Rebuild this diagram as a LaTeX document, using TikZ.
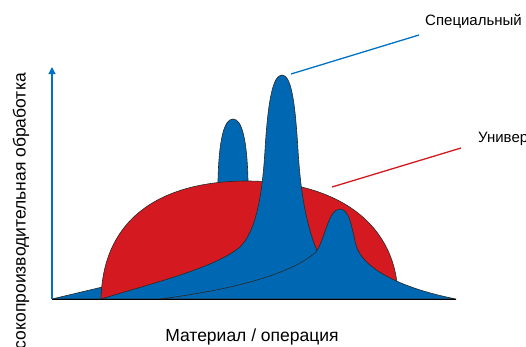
\documentclass[tikz,border=0pt]{standalone}
\usepackage{fontspec}
\setmainfont{Liberation Sans}
\usetikzlibrary{arrows.meta}
\definecolor{cblue}{RGB}{0,104,178}
\definecolor{cred}{RGB}{212,25,32}
\definecolor{cline}{RGB}{0,114,198}
\definecolor{cedge}{RGB}{40,40,40}
\begin{document}
\begin{tikzpicture}[x=1pt,y=-1pt,
  shp/.style={draw=cedge, line width=0.6pt, line join=round},
  lbl/.style={inner sep=0pt, font=\fontsize{15}{18}\selectfont},
  axlbl/.style={inner sep=0pt, font=\fontsize{17.5}{20}\selectfont},
  leader/.style={line width=1.3pt}]
\useasboundingbox (0,0) rectangle (526,346);
\clip (0,0) rectangle (526,346);
% back blue (behind red)
\fill[cblue, shp] (52,299) -- (115,284) -- (200,250) -- (218,195) -- (218,180)
  .. controls (219,140) and (224,119) .. (233,119)
  .. controls (242,119) and (247,140) .. (248,180) -- (249,250) -- (300,299) -- cycle;
% red dome
\fill[cred, shp] (101,299) .. controls (103,215) and (165,181) .. (247,181)
  .. controls (335,181) and (398,222) .. (398,299) -- cycle;
% middle blue (tall peak)
\fill[cblue, shp] (101,299) .. controls (150,284) and (215,268) .. (240,247)
  .. controls (255,232) and (262,200) .. (265,150)
  .. controls (268,100) and (273,75) .. (282,75)
  .. controls (291,75) and (295,100) .. (298,150)
  .. controls (301,200) and (308,230) .. (318,253) -- (330,299) -- cycle;
% front blue
\fill[cblue, shp] (160,299) .. controls (230,290) and (290,275) .. (316,252)
  .. controls (325,240) and (328,209) .. (340,209)
  .. controls (350,209) and (352,230) .. (356,245)
  .. controls (362,268) and (400,288) .. (456,299) -- cycle;
% axes
\coordinate (O) at (52,299);
\coordinate (X) at (456,299);
\coordinate (Ytip) at (52,67);
\draw[black, line width=0.9pt] (O) -- (X);
\draw[cline, line width=1.2pt, -{Triangle[width=7pt,length=7pt]}] (O) -- (Ytip);
% leaders
\coordinate (s1) at (291,74);
\coordinate (s2) at (419,35);
\coordinate (u1) at (332,187);
\coordinate (u2) at (461,148);
\draw[cline, leader] (s1) -- (s2);
\draw[cred, leader] (u1) -- (u2);
% labels
\node[lbl, anchor=base west] (spec) at (425,25.5) {Специальный};
\node[lbl, anchor=base west] (univ) at (478,142) {Универсальный};
\node[axlbl, anchor=base] (xl) at (252,341) {Материал / операция};
\node[axlbl, rotate=90, anchor=base east] (yl) at (25.5,73) {Высокопроизводительная обработка};
\end{tikzpicture}
\end{document}
